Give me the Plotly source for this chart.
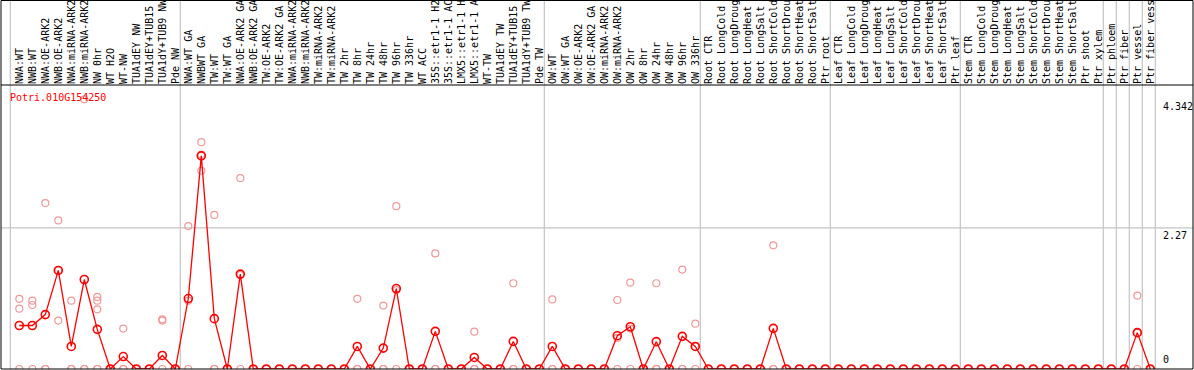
import plotly.graph_objects as go

gene_id = "Potri.010G154250"

categories = [
    "NWA:WT", "NWB:WT", "NWA:OE-ARK2", "NWB:OE-ARK2", "NWA:miRNA-ARK2", "NWB:miRNA-ARK2",
    "NW 0hr", "WT H2O", "WT-NW", "TUA1dEY NW", "TUA1dEY+TUB15 NW", "TUA1dY+TUB9 NW", "Pde NW",
    "NWA:WT GA", "NWBWT GA", "TW:WT", "TW:WT GA", "NWA:OE-ARK2 GA", "NWB:OE-ARK2 GA",
    "TW:OE-ARK2", "TW:OE-ARK2 GA", "NWA:miRNA-ARK2", "NWB:miRNA-ARK2", "TW:miRNA-ARK2",
    "TW:miRNA-ARK2", "TW 2hr", "TW 8hr", "TW 24hr", "TW 48hr", "TW 96hr", "TW 336hr",
    "WT ACC", "35S::etr1-1 H2O", "35S::etr1-1 ACC", "LMX5::etr1-1 H2O", "LMX5::etr1-1 ACC",
    "WT-TW", "TUA1dEY TW", "TUA1dEY+TUB15 TW", "TUA1dY+TUB9 TW", "Pde TW",
    "OW:WT", "OW:WT GA", "OW:OE-ARK2", "OW:OE-ARK2 GA", "OW:miRNA-ARK2", "OW:miRNA-ARK2",
    "OW 2hr", "OW 8hr", "OW 24hr", "OW 48hr", "OW 96hr", "OW 336hr",
    "Root CTR", "Root LongCold", "Root LongDrought", "Root LongHeat", "Root LongSalt",
    "Root ShortCold", "Root ShortDrought", "Root ShortHeat", "Root ShortSalt", "Ptr root",
    "Leaf CTR", "Leaf LongCold", "Leaf LongDrought", "Leaf LongHeat", "Leaf LongSalt",
    "Leaf ShortCold", "Leaf ShortDrought", "Leaf ShortHeat", "Leaf ShortSalt", "Ptr leaf",
    "Stem CTR", "Stem LongCold", "Stem LongDrought", "Stem LongHeat", "Stem LongSalt",
    "Stem ShortCold", "Stem ShortDrought", "Stem ShortHeat", "Stem ShortSalt", "Ptr shoot",
    "Ptr xylem", "Ptr phloem", "Ptr fiber", "Ptr vessel", "Ptr fiber vessel",
]

mean_values = [
    0.70, 0.70, 0.875, 1.586, 0.363, 1.44, 0.638, 0, 0.20, 0, 0, 0.218, 0,
    1.134, 3.43, 0.81, 0, 1.527, 0, 0, 0, 0, 0, 0, 0, 0, 0.363, 0, 0.336, 1.295, 0,
    0, 0.606, 0, 0, 0.186, 0, 0, 0.444, 0, 0,
    0.363, 0, 0, 0, 0, 0.536, 0.68, 0, 0.44, 0, 0.525, 0.363,
    0, 0, 0, 0, 0, 0.654, 0, 0, 0, 0,
    0, 0, 0, 0, 0, 0, 0, 0, 0, 0,
    0, 0, 0, 0, 0, 0, 0, 0, 0, 0,
    0, 0, 0, 0.585, 0,
]

Z = [0, 0, 0]
replicates = [
    [1.13, 0.97, 0], [1.10, 1.03, 0], [2.67, 0, 0], [2.39, 1.59, 0.78], [1.10, 0, 0],
    [4.34, 0, 0], [1.16, 1.10, 0.96, 0, 0], Z, [0.65, 0, 0], Z, Z, [0.80, 0.78, 0], Z,
    [2.30, 1.10, 0], [3.65, 3.45, 3.19], [2.48, 0, 0], Z, [3.07, 1.51, 0], Z, Z, Z, Z, Z,
    Z, Z, Z, [1.13, 0, 0], Z, [1.02, 0, 0], [2.62, 1.27, 0], Z,
    Z, [1.86, 0, 0], Z, Z, [0.60, 0, 0], Z, Z, [1.38, 0, 0], Z, Z,
    [1.12, 0, 0], Z, Z, Z, Z, [1.11, 0.50, 0], [1.39, 0.65, 0], Z, [1.38, 0, 0], Z,
    [1.60, 0, 0], [0.73, 0.36, 0],
    Z, Z, Z, Z, Z, [1.99, 0, 0], Z, Z, Z, Z,
    Z, Z, Z, Z, Z, Z, Z, Z, Z, Z,
    Z, Z, Z, Z, Z, Z, Z, Z, Z, Z,
    Z, Z, Z, [1.18, 0.58, 0], Z,
]

group_breaks = [-1, 12, 40, 52, 62, 72, 83, 84, 85, 86, 87]
y_tick_values = [4.342, 2.27, 0]
y_tick_labels = ["4.342", "2.27", "0"]

W, H = 1194, 370
ML, MR, MT, MB = 1, 1, 85, 1
PW = W - ML - MR
PH = H - MT - MB
STEP = 13.0
x0 = -1.408
x_range = [x0, x0 + PW / STEP]
y_range = [0, 4.57]
MONO = "DejaVu Sans Mono"

rx, ry = [], []
for i, reps in enumerate(replicates):
    for v in reps:
        rx.append(i)
        ry.append(v)

fig = go.Figure()
fig.add_trace(go.Scatter(
    x=rx, y=ry, mode="markers",
    marker=dict(symbol="circle-open", size=7, color="#ee9a9a", line=dict(width=1.2)),
    hoverinfo="skip", showlegend=False,
))
fig.add_trace(go.Scatter(
    x=list(range(len(categories))), y=mean_values, mode="lines+markers",
    line=dict(color="#ff0000", width=1.3),
    marker=dict(symbol="circle-open", size=8, color="#ff0000", line=dict(width=1.6)),
    showlegend=False,
))

shapes = []
top_paper = (H - MB) / PH + 0.02
for b in group_breaks:
    xb = b + 0.385 if b >= 0 else -0.69
    shapes.append(dict(type="line", xref="x", yref="paper", x0=xb, x1=xb, y0=0, y1=top_paper,
                       line=dict(color="#c4c4c4", width=1.2), layer="below"))
shapes.append(dict(type="line", xref="paper", yref="y", x0=0, x1=1, y0=2.27, y1=2.27,
                   line=dict(color="#c4c4c4", width=1.2), layer="below"))
# outer frame and plot top line
shapes.append(dict(type="rect", xref="paper", yref="paper", x0=0, x1=1, y0=0,
                   y1=(H - MB - 0.5) / PH, line=dict(color="black", width=1)))
shapes.append(dict(type="line", xref="paper", yref="paper", x0=0, x1=1, y0=1, y1=1,
                   line=dict(color="black", width=1)))

annotations = [dict(
    text=gene_id, xref="paper", yref="paper", x=(7.5 - ML) / PW, y=(H - MB - 97) / PH,
    xanchor="left", yanchor="middle", showarrow=False,
    font=dict(family=MONO, size=10, color="#ff0000"),
)]
for v, t in zip(y_tick_values, y_tick_labels):
    if v == 0:
        ya, ys = "bottom", 2
    else:
        ya, ys = "top", 0
    annotations.append(dict(
        text=t, xref="paper", yref="y", x=(1161 - ML) / PW, y=v, xanchor="left", yanchor=ya,
        yshift=ys, showarrow=False, font=dict(family=MONO, size=10, color="black"),
    ))

fig.update_layout(
    width=W, height=H,
    margin=dict(l=ML, r=MR, t=MT, b=MB, pad=0),
    paper_bgcolor="white", plot_bgcolor="white",
    shapes=shapes, annotations=annotations,
    xaxis=dict(
        range=x_range, side="top", tickmode="array",
        tickvals=list(range(len(categories))), ticktext=categories,
        tickangle=-90, ticks="", showgrid=False, zeroline=False, showline=False,
        tickfont=dict(family=MONO, size=10, color="black"),
        automargin=False, fixedrange=True,
    ),
    yaxis=dict(range=y_range, showticklabels=False, showgrid=False, zeroline=False,
               showline=False, automargin=False, fixedrange=True),
)

fig.write_html(
    "out.html",
    config={"displayModeBar": False},
    post_script="document.body.style.margin='0';document.body.style.overflow='hidden';",
)
